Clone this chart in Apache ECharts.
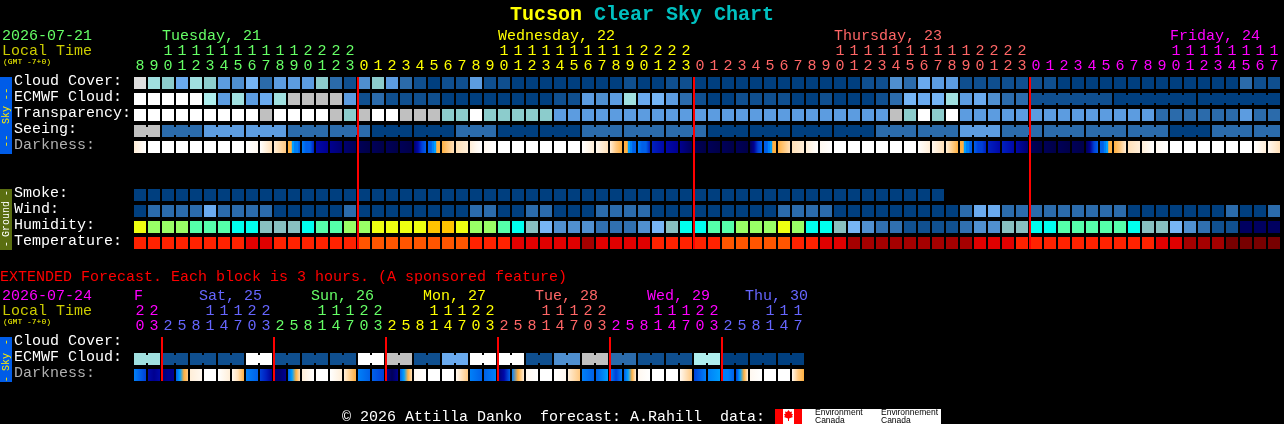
<!DOCTYPE html>
<html><head><meta charset="utf-8">
<style>html,body{margin:0;padding:0;background:#000;overflow:hidden}#c{width:1284px;height:424px}</style>
<script src="https://cdn.jsdelivr.net/npm/echarts@6/dist/echarts.min.js"></script>
</head><body><div id="c"></div>
<script>
// ---- data -------------------------------------------------------------
const hours = [8,9,10,11,12,13,14,15,16,17,18,19,20,21,22,23,
 0,1,2,3,4,5,6,7,8,9,10,11,12,13,14,15,16,17,18,19,20,21,22,23,
 0,1,2,3,4,5,6,7,8,9,10,11,12,13,14,15,16,17,18,19,20,21,22,23,
 0,1,2,3,4,5,6,7,8,9,10,11,12,13,14,15,16,17];
const hourDay = [0,0,0,0,0,0,0,0,0,0,0,0,0,0,0,0,
 1,1,1,1,1,1,1,1,1,1,1,1,1,1,1,1,1,1,1,1,1,1,1,1,
 2,2,2,2,2,2,2,2,2,2,2,2,2,2,2,2,2,2,2,2,2,2,2,2,
 3,3,3,3,3,3,3,3,3,3,3,3,3,3,3,3,3,3];
const dayNames = ['Tuesday, 21','Wednesday, 22','Thursday, 23','Friday, 24'];
const dayStartCols = [2,26,50,74];
const midnightCols = [16,40,64];
const rowLabels = ['Cloud Cover:','ECMWF Cloud:','Transparency:','Seeing:','Darkness:','','','Smoke:','Wind:','Humidity:','Temperature:'];

const cloudCover = [11,8,7,5,8,7,4,3,6,2,4,4,4,7,2,1,3,7,4,2,1,0,1,1,4,1,1,0,0,0,0,0,0,0,0,1,0,0,1,1,0,
 0,0,0,0,0,0,0,0,0,0,0,1,1,3,2,5,4,4,1,1,1,1,1,1,1,0,0,0,0,0,0,0,0,0,0,0,0,0,2,1,1];
const ecmwfCloud = [12,12,12,12,12,9,4,8,4,5,8,10,10,10,10,4,1,2,1,1,1,1,0,0,0,0,0,0,0,0,1,1,4,3,4,8,5,6,4,2,1,
 0,0,1,1,1,1,0,0,1,0,0,0,1,2,6,5,6,8,4,5,3,2,2,1,1,1,1,1,1,0,0,0,0,0,0,0,0,0,0,0,0];
const ecmwfBlocks = [[64,6],[70,6],[76,6]];
const transparency = [12,12,12,12,12,12,12,12,12,10,12,12,12,12,10,7,10,12,12,10,10,10,7,7,12,7,7,7,7,7,
 4,4,4,4,4,4,4,4,4,4,4,4,4,4,4,4,4,4,4,4,4,4,4,4,10,7,12,7,12,
 4,4,4,4,4,4,4,4,4,4,4,4,4,4,2,2,2,2,2,2,4,2,2];
const seeing = [10,10,2,2,2,4,4,4,4,4,4,2,2,2,2,2,2,0,0,0,0,0,0,2,2,2,0,0,0,0,0,0,2,2,2,2,2,2,2,2,2,
 0,0,0,0,0,0,0,0,0,0,0,0,2,2,2,2,2,2,4,4,4,2,2,2,2,2,2,2,2,2,2,2,2,0,0,0,2,2,2,2,2];
const seeingBlocks = [[0,2],[2,3],[5,3],[8,3],[11,3],[14,3],[17,3],[20,3],[23,3],[26,3],[29,3],[32,3],[35,3],[38,3],
 [41,3],[44,3],[47,3],[50,3],[53,3],[56,3],[59,3],[62,3],[65,3],[68,3],[71,3],[74,3],[77,3],[80,2]];
const darkness = [[2,0],[0],[0],[0],[0],[0],[0],[0],[0,1],[0,3],[2,4],
 [5,5,5,5,6,6,7,7,7,7,8,8],[7,8,8,10],[11,12],[12,13],[13,14],[14,15],[14,15],[14,15],[14,15],[13,11,9,8],
 [8,8,8,8,7,7,6,6,5,5,5,5],[5,4,3],[3,2],[2,1,0],[1,0],[0],[0],[0],[0],[0],[0],[0,2],[1,3],[2,4,5],
 [5,5,5,5,6,6,7,7,8,8,8,8],[7,8,8,10],[10,11],[11,12],[12,14],[14,15],[14,15],[14,15],[14,15],[14,12,9,8],
 [8,8,8,8,7,7,6,6,5,5,5,5],[5,3],[3,2],[2,0],[1,0],[0],[0],[0],[0],[0],[0],[0,2],[1,3],[2,5],
 [5,5,5,5,6,6,7,7,7,8,8,8],[8,9,9,10],[10,11],[10,11],[11,13],[14,15],[14,15],[14,15],[14,15],[14,12,9,8],
 [8,8,8,8,7,7,6,6,5,5,5,5],[5,4,2],[3,2],[2,0],[1,0],[0],[0],[0],[0],[0],[0],[0,2],[1,3]];
const smoke = [0,0,0,0,0,0,0,0,0,0,0,0,0,0,0,0,0,0,0,0,0,0,0,0,0,0,0,0,0,0,0,0,0,0,0,0,0,0,0,0,0,0,0,0,0,0,0,0,0,0,0,0,0,0,0,0,0,0];
const wind = [0,2,2,2,2,5,2,2,2,2,0,0,0,0,0,2,0,0,0,0,0,0,0,0,2,2,0,0,2,2,0,0,0,2,2,2,2,0,0,0,0,
 0,0,0,0,0,2,2,2,2,0,0,0,0,0,0,0,0,0,2,5,5,2,2,2,2,2,2,2,2,2,0,0,0,0,0,0,0,2,0,0,2];
const humidity = [1,2,2,2,3,3,3,4,4,5,5,5,4,3,3,2,2,1,1,1,1,0,0,1,2,2,3,4,5,6,7,7,7,8,8,8,7,6,5,4,4,
 3,3,2,2,2,1,2,4,4,5,6,7,8,8,9,9,9,9,8,7,7,5,5,4,4,3,3,3,3,3,4,5,5,6,7,8,9,9,10,10,10];
const temperature = [0,0,0,0,0,0,0,0,2,2,0,0,0,0,0,0,1,1,1,1,1,1,1,1,0,0,0,2,2,2,2,2,3,2,2,2,2,0,0,0,0,
 0,1,1,1,1,1,0,0,2,2,3,3,3,3,3,3,3,3,3,2,2,2,0,0,0,0,0,0,0,0,0,0,2,2,3,3,3,4,4,4,4];

const extHours = [20,23,2,5,8,11,14,17,20,23,2,5,8,11,14,17,20,23,2,5,8,11,14,17,20,23,2,5,8,11,14,17,20,23,2,5,8,11,14,17,20,23,2,5,8,11,14,17];
const extHourDay = [3,3,4,4,4,4,4,4,4,4,0,0,0,0,0,0,0,0,1,1,1,1,1,1,1,1,2,2,2,2,2,2,2,2,3,3,3,3,3,3,3,3,4,4,4,4,4,4];
const extDayNames = ['F','Sat, 25','Sun, 26','Mon, 27','Tue, 28','Wed, 29','Thu, 30'];
const extDayStartCols = [0,4.64,12.64,20.64,28.64,36.64,43.64];
const extDayColors = [3,4,0,1,2,3,4];
const extMidnightCols = [2,10,18,26,34,42];
const extRowLabels = ['Cloud Cover:','ECMWF Cloud:','Darkness:'];
const extEcmwf = [8,8,1,1,1,1,1,1,12,12,1,1,1,1,1,1,12,12,10,10,1,1,5,5,12,12,12,12,1,1,3,3,10,10,2,2,1,1,1,1,9,9,0,0,0,0,0,0];
const extBlocks = [0,2,4,6,8,10,12,14,16,18,20,22,24,26,28,30,32,34,36,38,40,42,44,46].map(s=>[s,2]);
const extDarkness = [[7,8,9],[11,12,11],[13,12,12],[8,6,5,4],[2,1],[0],[0,2],[1,3,5],[7,8],[9,10,12],[13,13,12],[8,6,5,3],
 [2,0],[0],[0,2],[2,5],[7,8],[8,9],[12,14,12],[8,6,5,3],[1,0],[0],[0],[1,4],[7,8],[8,7],[13,11,8],[7,5,2],[1,0],[0],[0,1],[2,4],
 [7,8],[8,6],[7,9,7],[8,6,5,2],[1,0],[0],[0],[1,4],[9,7],[7,6],[7,7,8],[9,6,5,2],[1,0],[0],[0],[1,4,5]];

// ---- styles -----------------------------------------------------------
const FAM = 'Liberation Mono';
const MONO = '"Liberation Mono", monospace';
const F15 = '15px ' + MONO;
const dayColors = ['#66ff66','#ffff00','#ff6666','#ff00ff','#6666ff'];
const bluePal = ['#003f7f','#0f4f8f','#2b6bab','#4f8fcf','#5c9ce0','#6aaaee','#75b5f5','#8ccccc','#a0e0e0','#aeeeee','#c0c0c0','#dedede','#ffffff'];
const humPal = ['#ffc400','#eeff11','#99ff66','#55ffaa','#00ffee','#88c0c0','#77b5f5','#5090d0','#3070b0','#105090','#000060'];
const tempPal = ['#ff2200','#ff5500','#e00000','#a50000','#780000'];
const darkPal = ['#ffffff','#fff8f0','#ffeed8','#ffe0b8','#ffc880','#ffb040','#00a0ff','#0080f8','#0060e8','#0040d8','#0020c0','#0008a8','#000090','#000070','#000058','#000048'];

// ---- series helpers ---------------------------------------------------
function links(blocks){const s=new Set();(blocks||[]).forEach(b=>{for(let i=b[0];i<b[0]+b[1]-1;i++)s.add(i);});return s;}
function cellSeries(name,row,values,pal,blocks,xi,yi){
  const linked=links(blocks);
  return {type:'custom',name,xAxisIndex:xi,yAxisIndex:yi,silent:true,animation:false,
    data:values.map((v,i)=>[i,row,v]),
    renderItem(p,api){
      const c=api.coord([api.value(0),api.value(1)]),w=api.size([1,0])[0],h=api.size([0,1])[1];
      const fill=pal[api.value(2)],x=c[0]-w/2+1,y=c[1]-h/2+2;
      const ch=[{type:'rect',shape:{x,y,width:w-2,height:h-4},style:{fill}}];
      if(linked.has(api.value(0)))ch.push({type:'rect',shape:{x:x+w-2,y:y+2,width:2,height:h-8},style:{fill}});
      return {type:'group',children:ch};
    }};
}
function darkSeries(name,row,values,xi,yi){
  return {type:'custom',name,xAxisIndex:xi,yAxisIndex:yi,silent:true,animation:false,
    data:values.map((v,i)=>[i,row]),
    renderItem(p,api){
      const c=api.coord([api.value(0),api.value(1)]),w=api.size([1,0])[0],h=api.size([0,1])[1];
      const st=values[p.dataIndex];
      const fill=st.length===1?darkPal[st[0]]:new echarts.graphic.LinearGradient(0,0,1,0,
        st.map((l,i)=>({offset:i/(st.length-1),color:darkPal[l]})));
      return {type:'rect',shape:{x:c[0]-w/2+1,y:c[1]-h/2+2,width:w-2,height:h-4},style:{fill}};
    }};
}
function lineSeries(name,cols,lastRow,xi,yi,bottomInset){
  return {type:'custom',name,xAxisIndex:xi,yAxisIndex:yi,silent:true,animation:false,z:5,
    data:cols.map(c=>[c]),
    renderItem(p,api){
      const c0=api.coord([api.value(0),0]),c1=api.coord([api.value(0),lastRow]),w=api.size([1,0])[0],h=api.size([0,1])[1];
      const top=c0[1]-h/2+2,bot=c1[1]+h/2-bottomInset;
      return {type:'rect',shape:{x:c0[0]-w/2,y:top,width:2,height:bot-top},style:{fill:'#ff0000'}};
    }};
}
function daySeries(name,cols,names,colors,xi,yi,yPix){
  return {type:'custom',name,xAxisIndex:xi,yAxisIndex:yi,silent:true,animation:false,
    data:cols.map((c,i)=>[i]),
    renderItem(p,api){
      const c0=api.coord([0,0]),w=api.size([1,0])[0];
      const i=api.value(0);
      return {type:'text',style:{text:names[i],x:c0[0]-w/2+1+cols[i]*w,y:yPix,fill:colors[i],font:F15,textAlign:'left',textVerticalAlign:'middle'}};
    }};
}
function labelSeries(name,labels,xi,yi){
  return {type:'custom',name,xAxisIndex:xi,yAxisIndex:yi,silent:true,animation:false,
    data:labels.map((l,i)=>[i]),
    renderItem(p,api){
      const i=api.value(0),c=api.coord([0,i]);
      return {type:'text',style:{text:labels[i],x:14,y:c[1]-1.5,fill:labels[i]==='Darkness:'?'#b0b0b0':'#ffffff',font:F15,textAlign:'left',textVerticalAlign:'middle'}};
    }};
}
function hourAxis(grid,data,dayIdx,margin,fmt){
  return {type:'category',gridIndex:grid,position:'top',data:data.map(String),boundaryGap:true,
    axisLine:{show:false},axisTick:{show:false},splitLine:{show:false},
    axisLabel:{show:true,interval:0,margin,fontFamily:FAM,fontSize:15,hideOverlap:false,
      color:(v,i)=>dayColors[dayIdx[i]],formatter:fmt}};
}
function rowAxis(grid,labels){
  return {type:'category',gridIndex:grid,inverse:true,data:labels,
    axisLine:{show:false},axisTick:{show:false},splitLine:{show:false},axisLabel:{show:false}};
}
const units=v=>String(+v%10), tens=v=>+v>=10?String(Math.floor(+v/10)):'';
function txt(text,x,y,fill,size,extra){
  return Object.assign({type:'text',silent:true,x,y,style:{text,fill,font:(size||15)+'px '+MONO,textAlign:'left',textVerticalAlign:'middle'}},extra||{});
}
function vtxt(text,cx,cy,fill,size){
  return {type:'text',silent:true,x:cx,y:cy,rotation:-Math.PI/2*-1,style:{text,fill,font:size+'px '+MONO,textAlign:'center',textVerticalAlign:'middle'}};
}
function box(x,y,w,h,fill){return {type:'rect',silent:true,shape:{x,y,width:w,height:h},style:{fill}};}

const chart=echarts.init(document.getElementById('c'),null,{renderer:'canvas',width:1284,height:424});
chart.setOption({
  backgroundColor:'#000',animation:false,
  title:{text:'{a|Tucson}{b|\u00a0Clear Sky Chart}',left:'center',top:0,
    textStyle:{rich:{a:{color:'#ffff00',fontFamily:FAM,fontWeight:'bold',fontSize:20},
      b:{color:'#00c0c0',fontFamily:FAM,fontWeight:'bold',fontSize:20}}}},
  grid:[{left:133,top:75,width:1148,height:176},{left:133,top:335,width:672,height:48}],
  xAxis:[hourAxis(0,hours,hourDay,1,units),hourAxis(0,hours,hourDay,16,tens),
         hourAxis(1,extHours,extHourDay,1,units),hourAxis(1,extHours,extHourDay,16.5,tens)],
  yAxis:[rowAxis(0,rowLabels),rowAxis(1,extRowLabels)],
  series:[
    cellSeries('Cloud Cover',0,cloudCover,bluePal,null,0,0),
    cellSeries('ECMWF Cloud',1,ecmwfCloud,bluePal,ecmwfBlocks,0,0),
    cellSeries('Transparency',2,transparency,bluePal,null,0,0),
    cellSeries('Seeing',3,seeing,bluePal,seeingBlocks,0,0),
    darkSeries('Darkness',4,darkness,0,0),
    cellSeries('Smoke',7,smoke,bluePal,null,0,0),
    cellSeries('Wind',8,wind,bluePal,null,0,0),
    cellSeries('Humidity',9,humidity,humPal,null,0,0),
    cellSeries('Temperature',10,temperature,tempPal,null,0,0),
    lineSeries('Midnight',midnightCols,10,0,0,2),
    daySeries('Days',dayStartCols,dayNames,dayColors,0,0,36),
    labelSeries('Row labels',rowLabels,0,0),
    cellSeries('Ext ECMWF',1,extEcmwf,bluePal,extBlocks,2,1),
    darkSeries('Ext Darkness',2,extDarkness,2,1),
    lineSeries('Ext Midnight',extMidnightCols,2,2,1,2),
    daySeries('Ext Days',extDayStartCols,extDayNames,extDayColors.map(i=>dayColors[i]),2,1,296),
    labelSeries('Ext row labels',extRowLabels,2,1)
  ],
  graphic:{elements:[
    txt('2026-07-21',2,36,'#66ff66'),txt('Local Time',2,51,'#cccc00'),txt('(GMT -7+0)',3,62,'#ffff00',8),
    txt('EXTENDED Forecast. Each block is 3 hours. (A sponsored feature)',0,277,'#ff0000'),
    txt('2026-07-24',2,296,'#ff00ff'),txt('Local Time',2,311,'#cccc00'),txt('(GMT -7+0)',3,322,'#ffff00',8),
    box(0,77,12,77,'#005ce8'),vtxt('--',6,94,'#ffee00',11),vtxt('Sky',6,115,'#ffee00',10),vtxt('--',6,141,'#ffee00',11),
    box(0,189,12,61,'#5a6e10'),vtxt('-',6,193,'#ffffff',10),vtxt('Ground',6,219,'#ffffff',10),vtxt('-',6,244,'#ffffff',10),
    box(0,337,12,45,'#005ce8'),vtxt('-',6,342,'#ffee00',10),vtxt('Sky',6,362,'#ffee00',10),vtxt('-',6,379,'#ffee00',10),
    txt('\u00a9 2026 Attilla Danko  forecast: A.Rahill  data:',342,417,'#ffffff'),
    box(775,409,166,15,'#ffffff'),box(775,409,8,15,'#ff0000'),box(794,409,8,15,'#ff0000'),
    {type:'polygon',silent:true,shape:{points:[[788.5,410],[790,412],[792,411.5],[791.5,414],[793,414],[792,416],[793,417],[789,418.5],[789,421],[788,421],[788,418.5],[784,417],[785,416],[784,414],[785.5,414],[785,411.5],[787,412]]},style:{fill:'#ff0000'}},
    {type:'text',silent:true,x:815,y:413,style:{text:'Environment',fill:'#000',font:'8.5px "Liberation Sans"',textVerticalAlign:'middle'}},
    {type:'text',silent:true,x:815,y:421,style:{text:'Canada',fill:'#000',font:'8.5px "Liberation Sans"',textVerticalAlign:'middle'}},
    {type:'text',silent:true,x:881,y:413,style:{text:'Environnement',fill:'#000',font:'8.5px "Liberation Sans"',textVerticalAlign:'middle'}},
    {type:'text',silent:true,x:881,y:421,style:{text:'Canada',fill:'#000',font:'8.5px "Liberation Sans"',textVerticalAlign:'middle'}}
  ]}
});
</script></body></html>
